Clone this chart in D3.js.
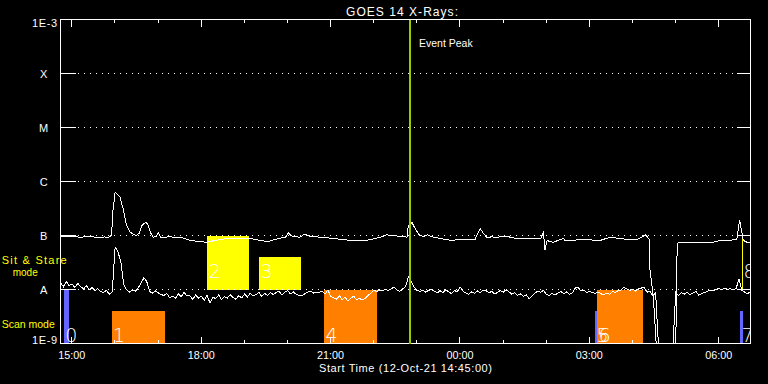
<!DOCTYPE html>
<html><head><meta charset="utf-8">
<script src="https://cdn.jsdelivr.net/npm/d3@7"></script>
<style>html,body{margin:0;padding:0;background:#000;} svg{display:block;}</style>
</head><body>
<svg id="c" width="768" height="384"></svg>
<script>
// ---------------- DATA ----------------
const chartTitle = "GOES 14 X-Rays:";
const xAxisTitle = "Start Time (12-Oct-21 14:45:00)";
const startUTC = "2021-10-12T14:45:00Z";
const spanHours = 16;
const eventPeakMinute = 486;            // 22:51
const eventPeakLabel = "Event Peak";

// flare class levels (W/m^2)
const classLevels = [1e-4, 1e-5, 1e-6, 1e-7, 1e-8];
const classLabels = ["X", "M", "C", "B", "A"];
const yEndLabels = ["1E-9", "1E-3"];

// long channel (1-8 Å): minutes after start, flux in 1e-9 W/m^2
const longMinutes = [0,7,13,20,27,34,41,48,55,62,66,71,73,76,80,83,87,92,97,102,106,110,113,118,121,125,129,133,136,139,145,150,155,160,166,173,180,187,194,204,213,222,229,236,250,264,271,278,289,295,301,307,313,317,322,333,340,347,354,361,370,379,391,403,414,424,435,445,454,463,473,482,484,489,493,498,500,505,510,519,528,537,545,553,561,569,577,579,584,589,593,600,607,614,621,628,635,642,649,655,661,668,672,674,677,681,686,693,700,702,708,714,720,727,733,742,751,759,767,775,784,793,802,808,814,819,820,825,829,856,858,862,870,880,892,904,912,918,925,932,937,941,943,945,947,950,955,960];
const longFlux = [94,97,94,96,92,95,96,93,92,94,92,100,290,625,570,505,316,153,115,104,100,112,153,174,167,115,93,96,115,93,92,95,94,92,93,88,81,79,77,75,80,84,87,88,89,88,85,81,77,82,86,90,93,112,97,93,107,97,95,93,91,88,85,81,80,81,86,93,103,99,97,93,153,174,138,107,100,96,103,93,88,84,81,84,86,85,84,100,133,107,93,94,93,95,97,91,88,89,88,87,89,88,115,53,81,77,75,82,88,81,82,81,84,83,84,82,81,88,93,89,86,85,84,92,103,86,24.5,6.8,0.9,0.9,71,75,74,73,73,73,77,81,80,81,85,86,133,191,133,81,75,75];

// short channel (0.5-4 Å): one value every 4 minutes from start, flux in 1e-9 W/m^2
const shortStepMinutes = 4;
const shortFlux = [
 13.5,11.2,14.2,11.8,12.6,10.9,13.0,11.4,10.2,11.8,9.8,10.9,9.5,10.4,9.1,
 8.9,9.6,8.2,9.0,61,50,32,12.5,9.8,9.0,9.8,9.3,10.6,13.0,16.5,
 14.0,9.2,8.6,9.4,8.7,8.0,7.8,8.4,7.0,7.5,6.9,8.3,7.4,8.8,7.6,
 7.6,6.6,7.9,6.9,7.5,6.3,7.8,5.6,7.2,6.8,7.9,6.5,7.4,6.9,8.0,
 7.1,6.6,7.7,7.0,8.2,7.3,8.6,7.6,8.0,8.9,7.4,8.5,7.8,8.7,8.1,
 8.8,9.3,8.0,8.9,9.5,8.3,9.0,8.1,7.8,7.6,8.4,8.9,9.3,8.6,8.9,
 8.9,9.4,8.2,9.8,7.4,7.0,6.6,7.7,6.4,7.2,6.1,6.9,7.5,6.5,6.8,
 6.4,6.9,7.8,8.6,9.6,9.2,9.8,9.4,10.0,9.6,10.3,11.0,9.9,9.2,10.2,
 11.2,16.9,14.0,11.0,9.6,9.2,9.8,8.9,9.6,10.1,9.4,8.6,9.5,8.8,9.9,
 9.1,8.4,9.6,9.0,11.2,9.3,8.6,8.2,9.0,8.5,9.4,8.8,9.8,9.6,8.7,
 9.2,8.3,8.8,9.6,8.9,9.9,9.0,8.2,8.7,7.8,8.3,7.4,8.0,6.8,7.6,
 8.6,9.3,8.9,9.6,8.1,7.7,8.5,7.9,8.6,9.2,8.4,9.0,8.2,8.6,10.6,
 11.0,9.4,9.8,8.7,9.3,8.8,8.4,9.0,8.3,8.0,8.6,8.2,9.1,8.8,9.6,
 9.8,11.0,10.2,9.6,10.0,9.4,10.2,10.6,11.1,8.9,9.4,7.7,8.6,0.9,0.9,
 0.9,0.9,0.9,0.9,8.9,7.7,8.8,8.2,8.9,8.0,8.6,9.2,7.9,8.4,8.8,
 9.2,9.8,9.4,10.0,10.4,9.9,10.5,10.1,10.3,9.8,10.4,15.7,9.6,8.9,8.3,
 9.2];

// observation blocks
const obsIds    = ["0","1","2","3","4","5","6","7","8"];
const obsStart  = [4.5, 71, 204, 276, 366.5, 743.7, 746.4, 945.5, 948];
const obsEnd    = [11.8, 145.5, 262.3, 334.6, 440.3, 746.4, 810.4, 949.6, 949.6];
const obsKind   = ["scanA","scanB","sit","sit","scanB","scanA","scanB","scanA","sit"];
const obsLow    = [1e-9, 1e-9, 1e-8, 1e-8, 1e-9, 1e-9, 1e-9, 1e-9, 1e-8];
const obsHigh   = [1e-8, 4e-9, 1e-7, 4e-8, 1e-8, 4e-9, 1e-8, 4e-9, 1e-7];
const modeLabels = [["Sit & Stare","mode"],["Scan mode"]];

// ---------------- STYLE ----------------
const kindColor = {scanA:"#6464ff", scanB:"#ff8000", sit:"#ffff00"};
const FONT = "'Liberation Sans', Arial, sans-serif";
const W = 768, H = 384;
const L = 60.5, R = 750.5, T = 19.5, B = 343.5;

const svg = d3.select("#c");
svg.append("rect").attr("width", W).attr("height", H).attr("fill", "#000");

const t0 = new Date(startUTC);
const t1 = d3.utcHour.offset(t0, spanHours);
const tm = m => new Date(t0.getTime() + m * 60000);
const x = d3.scaleUtc().domain([t0, t1]).range([L, R]);
const y = d3.scaleLog().domain([1e-9, 1e-3]).range([B, T]);

svg.append("defs").append("clipPath").attr("id", "plot")
  .append("rect").attr("x", L).attr("y", T).attr("width", R - L).attr("height", B - T);

// bars
const bars = obsIds.map((id, i) => ({id, s: obsStart[i], e: obsEnd[i], k: obsKind[i], lo: obsLow[i], hi: obsHigh[i]}));
svg.append("g").attr("shape-rendering", "crispEdges").selectAll("rect").data(bars).join("rect")
  .attr("x", d => x(tm(d.s)))
  .attr("width", d => Math.max(1.2, x(tm(d.e)) - x(tm(d.s))))
  .attr("y", d => y(d.hi))
  .attr("height", d => y(d.lo) - y(d.hi))
  .attr("fill", d => kindColor[d.k]);

// curves
const longData = longMinutes.map((m, i) => ({m, v: longFlux[i] * 1e-9}));
const shortData = shortFlux.map((v, i) => ({m: i * shortStepMinutes, v: v * 1e-9}));
const line = d3.line().x(d => x(tm(d.m))).y(d => y(Math.max(d.v, 5e-10)));
const cg = svg.append("g").attr("clip-path", "url(#plot)");
[longData, shortData].forEach(dd => {
  cg.append("path").datum(dd).attr("d", line).attr("fill", "none")
    .attr("stroke", "#fff").attr("stroke-width", 1).attr("stroke-linejoin", "miter")
    .attr("shape-rendering", "crispEdges");
});

// dotted class lines and side ticks
const gl = svg.append("g").attr("shape-rendering", "crispEdges").attr("stroke", "#fff");
classLevels.forEach(v => {
  const yy = Math.round(y(v) - 0.5) + 0.5;
  gl.append("line").attr("x1", L - 0.5).attr("x2", R).attr("y1", yy).attr("y2", yy)
    .attr("stroke-dasharray", "1 5");
  gl.append("line").attr("x1", L).attr("x2", L + 15).attr("y1", yy).attr("y2", yy);
  gl.append("line").attr("x1", R - 14).attr("x2", R).attr("y1", yy).attr("y2", yy);
});

// bar labels
svg.append("g").selectAll("text").data(bars).join("text")
  .attr("x", d => x(tm(d.s)) + 1.5)
  .attr("y", d => d.k === "sit" ? y(d.lo) - 11.5 : y(d.lo) - 2)
  .attr("fill", "#fff")
  .attr("font-family", "'DejaVu Sans', sans-serif")
  .attr("font-weight", 200)
  .attr("font-size", 19)
  .attr("clip-path", "url(#plot)")
  .text(d => d.id);

// frame
svg.append("rect").attr("x", L).attr("y", T).attr("width", R - L).attr("height", B - T)
  .attr("fill", "none").attr("stroke", "#fff").attr("shape-rendering", "crispEdges");

// time axes
const hours = d3.utcHour.range(d3.utcHour.ceil(t0), t1);
const major = hours.filter(d => d.getUTCHours() % 3 === 0);
const minor = hours.filter(d => d.getUTCHours() % 3 !== 0);
function styleAxis(g) {
  g.select(".domain").remove();
  g.selectAll("line").attr("stroke", "#fff").attr("shape-rendering", "crispEdges");
  g.selectAll("text").attr("fill", "#fff").attr("font-family", FONT).attr("font-size", 11)
    .attr("textLength", 27).attr("lengthAdjust", "spacingAndGlyphs");
}
svg.append("g").attr("transform", `translate(0,${B})`)
  .call(d3.axisBottom(x).tickValues(major).tickSize(-7).tickPadding(8).tickFormat(d3.utcFormat("%H:%M")))
  .call(styleAxis);
svg.append("g").attr("transform", `translate(0,${B})`)
  .call(d3.axisBottom(x).tickValues(minor).tickSize(-3.5).tickFormat(""))
  .call(styleAxis);
svg.append("g").attr("transform", `translate(0,${T})`)
  .call(d3.axisTop(x).tickValues(major).tickSize(-7).tickFormat(""))
  .call(styleAxis);
svg.append("g").attr("transform", `translate(0,${T})`)
  .call(d3.axisTop(x).tickValues(minor).tickSize(-3.5).tickFormat(""))
  .call(styleAxis);

// y labels
const txt = svg.append("g").attr("fill", "#fff").attr("font-family", FONT).attr("font-size", 11);
classLevels.forEach((v, i) => {
  txt.append("text").attr("x", 43.7).attr("y", y(v) + 4.8).attr("text-anchor", "middle").text(classLabels[i]);
});
txt.append("text").attr("x", 57).attr("y", y(1e-9) + 0.5).attr("text-anchor", "end")
  .attr("textLength", 25).text(yEndLabels[0]);
txt.append("text").attr("x", 57).attr("y", y(1e-3) + 7.5).attr("text-anchor", "end")
  .attr("textLength", 25).text(yEndLabels[1]);

// titles
txt.append("text").attr("x", 402).attr("y", 15.5).attr("text-anchor", "middle")
  .attr("textLength", 112).attr("font-size", 12).text(chartTitle);
txt.append("text").attr("x", 405.5).attr("y", 372).attr("text-anchor", "middle")
  .attr("textLength", 173).text(xAxisTitle);

// mode labels
const ml = svg.append("g").attr("fill", "#ffff00").attr("font-family", FONT).attr("font-size", 11);
ml.append("text").attr("x", 1.7).attr("y", 263.5).attr("textLength", 65).text(modeLabels[0][0]);
ml.append("text").attr("x", 12.7).attr("y", 275.5).attr("font-size", 10).text(modeLabels[0][1]);
ml.append("text").attr("x", 1.7).attr("y", 328.3).attr("font-size", 10.5).text(modeLabels[1][0]);

// event peak
const ex = x(tm(eventPeakMinute));
svg.append("line").attr("x1", ex).attr("x2", ex).attr("y1", T).attr("y2", B)
  .attr("stroke", "#99cc00").attr("stroke-width", 2).attr("shape-rendering", "crispEdges");
txt.append("text").attr("x", 419).attr("y", 47).attr("font-size", 10.5).text(eventPeakLabel);
</script>
</body></html>
